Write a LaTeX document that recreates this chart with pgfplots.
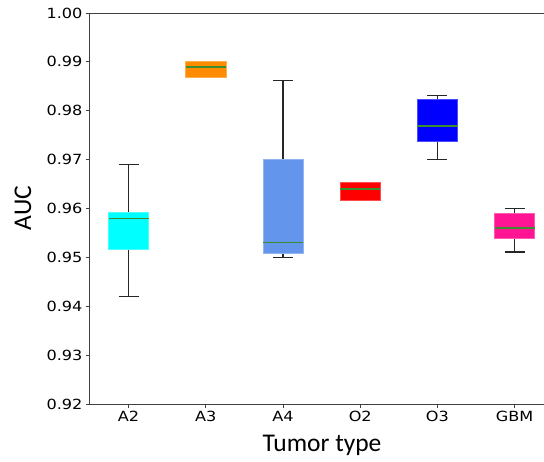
\documentclass[border=0pt]{standalone}
\usepackage{fontspec}
\setmainfont{Carlito}
\newfontfamily\tickfont[FakeStretch=1.15]{DejaVu Sans}
\usepackage{pgfplots}
\pgfplotsset{compat=1.18}
\usepgfplotslibrary{statistics}
\definecolor{cA2}{HTML}{00FFFF}
\definecolor{cA3}{HTML}{FF8C00}
\definecolor{cA4}{HTML}{6495ED}
\definecolor{cO2}{HTML}{FF0000}
\definecolor{cO3}{HTML}{0000FF}
\definecolor{cGBM}{HTML}{FF1493}
\definecolor{medc}{HTML}{3A8E30}
\definecolor{spine}{HTML}{404040}
\pgfplotsset{
  bx/.style={mark=none, draw=black!85, line width=1.1pt,
    boxplot/every box/.style={fill=#1, draw=#1!70!white, line width=0.6pt}},
}
\begin{document}
\begin{tikzpicture}
\path[use as bounding box] (-90pt,-57pt) rectangle (454pt,404pt);
\begin{axis}[
  at={(0,0)}, anchor=south west,
  scale only axis, width=454pt, height=391pt,
  xmin=0.5, xmax=6.38, ymin=0.92, ymax=1.00,
  axis y line*=left,
  axis line style={spine, line width=1pt},
  xtick={1,2,3,4,5,6},
  xticklabels={A2,A3,A4,O2,O3,GBM},
  ytick={0.92,0.93,0.94,0.95,0.96,0.97,0.98,0.99,1.00},
  yticklabel style={/pgf/number format/.cd, fixed, fixed zerofill, precision=2},
  /pgf/number format/assume math mode=true,
  ticklabel style={font=\tickfont\fontsize{14}{15}\selectfont, text=black},
  xtick pos=bottom, ytick pos=left,
  tick align=outside, major tick length=4pt,
  tick style={spine, line width=1pt},
  boxplot/draw direction=y,
  boxplot/box extend=0.52,
  boxplot/whisker extend=0.26,
  boxplot/every median/.style={draw=medc, line width=1.5pt},
  boxplot/every whisker/.style={draw=black!85, line width=1.1pt},
  clip=false,
]
\addplot[bx=cA2, boxplot prepared={lower whisker=0.942, lower quartile=0.9517, median=0.958, upper quartile=0.9592, upper whisker=0.969, draw position=1}] coordinates {};
\addplot[bx=cA3, boxplot/every whisker/.style={draw=none}, boxplot prepared={lower whisker=0.9868, lower quartile=0.9868, median=0.989, upper quartile=0.9902, upper whisker=0.9902, draw position=2}] coordinates {};
\addplot[bx=cA4, boxplot prepared={lower whisker=0.950, lower quartile=0.9508, median=0.953, upper quartile=0.9701, upper whisker=0.9861, draw position=3}] coordinates {};
\addplot[bx=cO2, boxplot/every whisker/.style={draw=none}, boxplot prepared={lower whisker=0.9617, lower quartile=0.9617, median=0.964, upper quartile=0.9653, upper whisker=0.9653, draw position=4}] coordinates {};
\addplot[bx=cO3, boxplot prepared={lower whisker=0.970, lower quartile=0.9737, median=0.9769, upper quartile=0.9823, upper whisker=0.9831, draw position=5}] coordinates {};
\addplot[bx=cGBM, boxplot prepared={lower whisker=0.9511, lower quartile=0.9539, median=0.956, upper quartile=0.9591, upper whisker=0.960, draw position=6}] coordinates {};
\end{axis}
\node[rotate=90, font=\fontsize{25.5}{28}\selectfont] at (-67pt,196pt) {AUC};
\node[font=\fontsize{25.5}{28}\selectfont] at (232pt,-41pt) {Tumor type};
\end{tikzpicture}
\end{document}
